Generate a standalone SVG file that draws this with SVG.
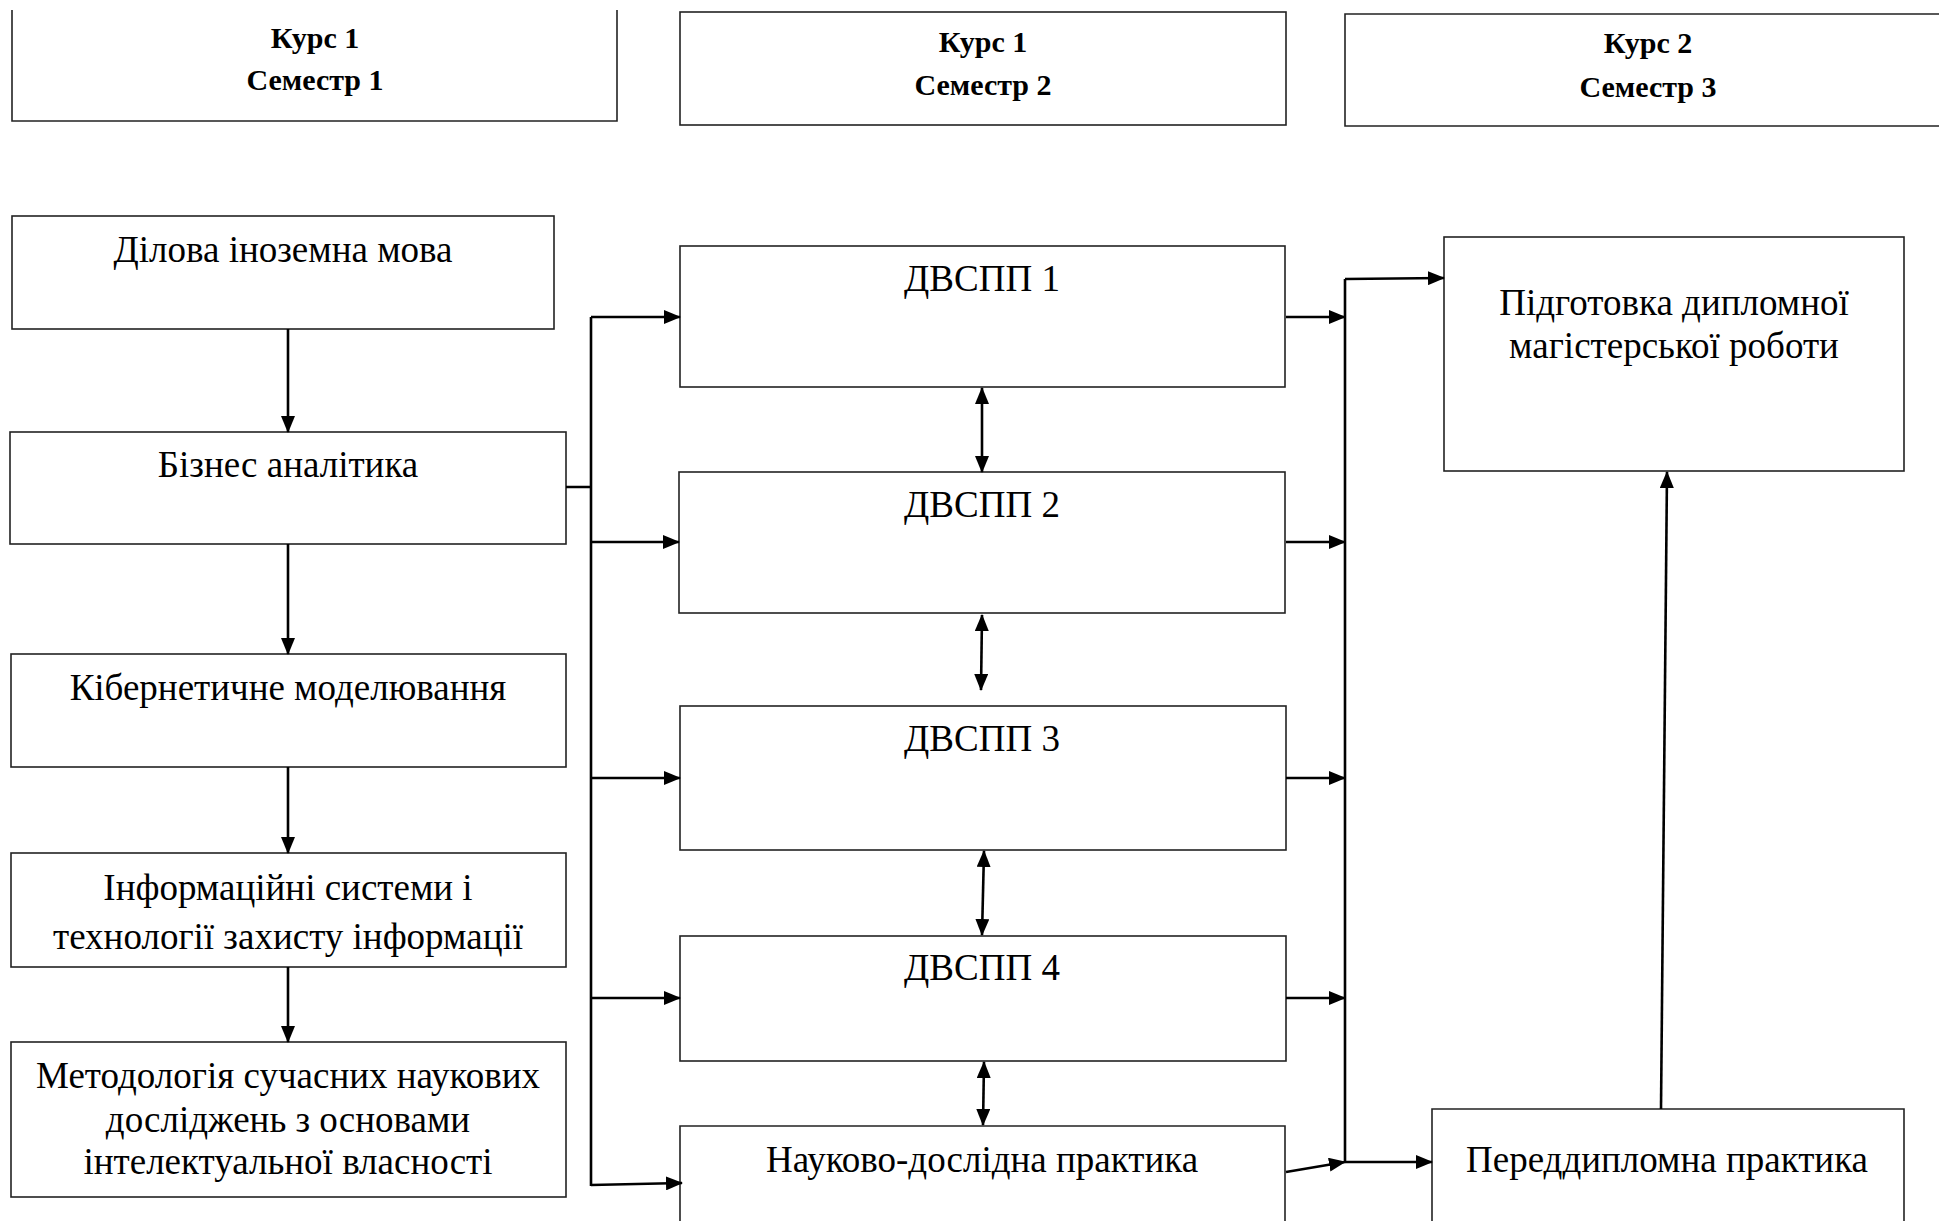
<svg xmlns="http://www.w3.org/2000/svg" width="1939" height="1221" viewBox="0 0 1939 1221">
<style>
.box{fill:#fff;stroke:#222;stroke-width:1.6}
.t{font-family:"Liberation Serif","Times New Roman",serif;font-size:37px;fill:#000;text-anchor:middle}
.h{font-family:"Liberation Serif","Times New Roman",serif;font-size:30px;font-weight:bold;fill:#000;text-anchor:middle}
.c{fill:none;stroke:#000;stroke-width:2.6}
</style>
<defs>
<marker id="a" markerUnits="userSpaceOnUse" markerWidth="18" markerHeight="14" refX="16" refY="7" orient="auto-start-reverse" viewBox="0 0 18 14">
<path d="M0,0 L17,7 L0,14 z" fill="#000"/>
</marker>
</defs>
<rect width="1939" height="1221" fill="#fff"/>
<g id="hdr1"><path class="box" d="M12,10 V121 H617 V10"/><text class="h" x="315" y="48">Курс 1</text><text class="h" x="315" y="90">Семестр 1</text></g>
<g id="hdr2"><rect class="box" x="680" y="12" width="606" height="113"/><text class="h" x="983" y="52">Курс 1</text><text class="h" x="983" y="95">Семестр 2</text></g>
<g id="hdr3"><path class="box" d="M1945,14 H1345 V126 H1945"/><text class="h" x="1648" y="53">Курс 2</text><text class="h" x="1648" y="97">Семестр 3</text></g>

<g id="n1"><rect class="box" x="12" y="216" width="542" height="113"/><text class="t" x="283" y="262">Ділова іноземна мова</text></g>
<g id="n2"><rect class="box" x="10" y="432" width="556" height="112"/><text class="t" x="288" y="477">Бізнес аналітика</text></g>
<g id="n3"><rect class="box" x="11" y="654" width="555" height="113"/><text class="t" x="288" y="700">Кібернетичне моделювання</text></g>
<g id="n4"><rect class="box" x="11" y="853" width="555" height="114"/><text class="t" x="288" y="900">Інформаційні системи і</text><text class="t" x="288" y="949">технології захисту інформації</text></g>
<g id="n5"><rect class="box" x="11" y="1042" width="555" height="155"/><text class="t" x="288" y="1088">Методологія сучасних наукових</text><text class="t" x="288" y="1132">досліджень з основами</text><text class="t" x="288" y="1174">інтелектуальної власності</text></g>

<g id="m1"><rect class="box" x="680" y="246" width="605" height="141"/><text class="t" x="982" y="291">ДВСПП 1</text></g>
<g id="m2"><rect class="box" x="679" y="472" width="606" height="141"/><text class="t" x="982" y="517">ДВСПП 2</text></g>
<g id="m3"><rect class="box" x="680" y="706" width="606" height="144"/><text class="t" x="982" y="751">ДВСПП 3</text></g>
<g id="m4"><rect class="box" x="680" y="936" width="606" height="125"/><text class="t" x="982" y="980">ДВСПП 4</text></g>
<g id="m5"><path class="box" d="M680,1230 V1126 H1285 V1230"/><text class="t" x="982" y="1172">Науково-дослідна практика</text></g>

<g id="r1"><rect class="box" x="1444" y="237" width="460" height="234"/><text class="t" x="1674" y="315">Підготовка дипломної</text><text class="t" x="1674" y="358">магістерської роботи</text></g>
<g id="r2"><path class="box" d="M1432,1230 V1109 H1904 V1230"/><text class="t" x="1667" y="1172">Переддипломна практика</text></g>

<g id="connectors">
<path class="c" marker-end="url(#a)" d="M288,329 V432"/>
<path class="c" marker-end="url(#a)" d="M288,544 V654"/>
<path class="c" marker-end="url(#a)" d="M288,767 V853"/>
<path class="c" marker-end="url(#a)" d="M288,967 V1042"/>
<path class="c" d="M566,487 H591 M591,317 V1186"/>
<path class="c" marker-end="url(#a)" d="M591,317 H680"/>
<path class="c" marker-end="url(#a)" d="M591,542 H679"/>
<path class="c" marker-end="url(#a)" d="M591,778 H680"/>
<path class="c" marker-end="url(#a)" d="M591,998 H680"/>
<path class="c" marker-end="url(#a)" d="M591,1185 L682,1183"/>
<path class="c" marker-start="url(#a)" marker-end="url(#a)" d="M982,388 V472"/>
<path class="c" marker-start="url(#a)" marker-end="url(#a)" d="M982,615 L981,690"/>
<path class="c" marker-start="url(#a)" marker-end="url(#a)" d="M984,851 L982,935"/>
<path class="c" marker-start="url(#a)" marker-end="url(#a)" d="M984,1062 L983,1125"/>
<path class="c" marker-end="url(#a)" d="M1286,317 H1345"/>
<path class="c" marker-end="url(#a)" d="M1286,542 H1345"/>
<path class="c" marker-end="url(#a)" d="M1286,778 H1345"/>
<path class="c" marker-end="url(#a)" d="M1286,998 H1345"/>
<path class="c" marker-end="url(#a)" d="M1286,1172 L1345,1162"/>
<path class="c" d="M1345,1162 V279"/>
<path class="c" marker-end="url(#a)" d="M1345,279 L1444,278"/>
<path class="c" marker-end="url(#a)" d="M1345,1162 H1432"/>
<path class="c" marker-end="url(#a)" d="M1661,1109 L1667,472"/>
</g>
</svg>
